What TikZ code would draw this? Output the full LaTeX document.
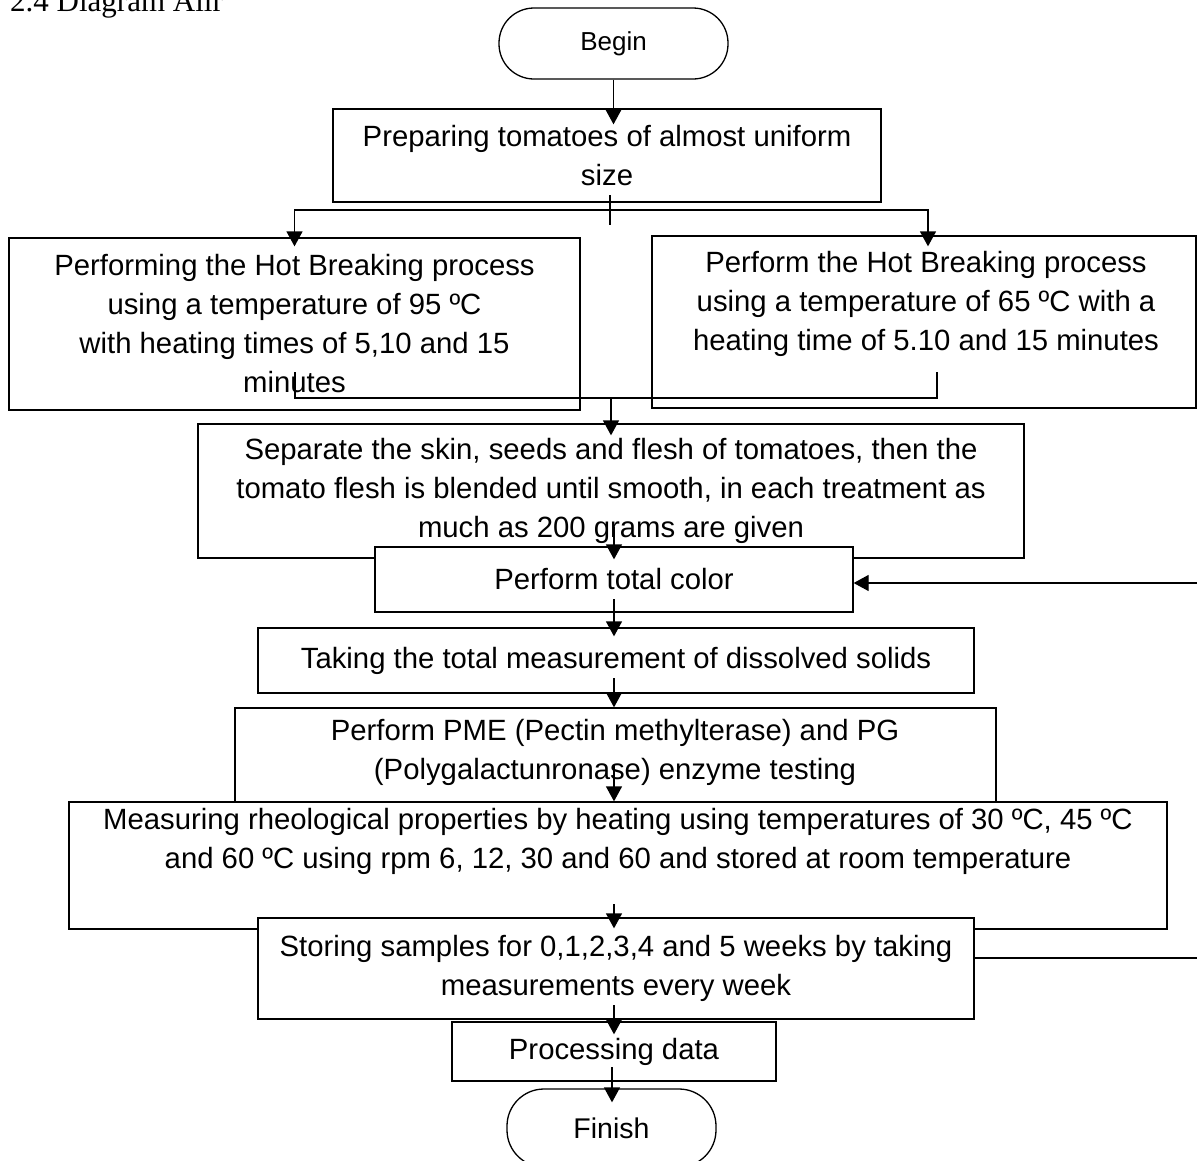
\documentclass[tikz,border=0pt]{standalone}
\usepackage{fontspec}
\setmainfont{Liberation Sans}
\newfontfamily\titlefont{Liberation Serif}
\usetikzlibrary{arrows.meta}
\begin{document}
\begin{tikzpicture}[x=1pt,y=-1pt,
  box/.style={draw, line width=1.3pt, fill=white, inner sep=0pt, align=center, font=\fontsize{29.3}{39}\selectfont},
  term/.style={box, rounded corners=35pt},
  txt/.style={inner sep=0pt, align=center, font=\fontsize{29.3}{39}\selectfont},
  conn/.style={line width=1.3pt},
  arr/.style={conn, -{Triangle[width=16pt,length=15pt]}}]
\fill[white] (0,0) rectangle (1197,1160);
\useasboundingbox (0,0) rectangle (1197,1160);

\node[anchor=base west, inner sep=0pt, font=\titlefont\fontsize{31}{37}\selectfont] (title) at (10,11) {2.4 Diagram Alir};

\node[term, minimum width=229, minimum height=71, font=\fontsize{26}{30}\selectfont] (begin) at (613.5,43.5) {Begin};
\node[box, minimum width=548, minimum height=93] (prep) at (607,155.5) {Preparing tomatoes of almost uniform\\size};
\node[box, minimum width=571, minimum height=172] (left) at (294.5,324) {Performing the Hot Breaking process\\using a temperature of 95 ºC\\with heating times of 5,10 and 15\\minutes};
\node[box, minimum width=544, minimum height=172] (right) at (924,322) {};
\node[txt] (rightT) at (926,304) {Perform the Hot Breaking process\\using a temperature of 65 ºC with a\\heating time of 5.10 and 15 minutes};
\node[box, minimum width=826, minimum height=134] (sep) at (611,491) {Separate the skin, seeds and flesh of tomatoes, then the\\tomato flesh is blended until smooth, in each treatment as\\much as 200 grams are given};
\node[box, minimum width=478, minimum height=65] (total) at (614,579.5) {Perform total color};
\node[box, minimum width=716, minimum height=65] (taking) at (616,660.5) {Taking the total measurement of dissolved solids};
\node[box, minimum width=761, minimum height=95] (pme) at (615.5,755.5) {};
\node[txt] (pmeT) at (615,752) {Perform PME (Pectin methylterase) and PG\\(Polygalactunronase) enzyme testing};
\node[box, minimum width=1098, minimum height=127] (meas) at (618,865.5) {};
\node[txt] (measT) at (618,841) {Measuring rheological properties by heating using temperatures of 30 ºC, 45 ºC\\and 60 ºC using rpm 6, 12, 30 and 60 and stored at room temperature};
\node[box, minimum width=716, minimum height=101] (store) at (616,968.5) {Storing samples for 0,1,2,3,4 and 5 weeks by taking\\measurements every week};
\node[box, minimum width=324, minimum height=59] (proc) at (614,1051.5) {Processing data};
\node[term, minimum width=209, minimum height=78, rounded corners=37pt, font=\fontsize{28.5}{32}\selectfont] (finish) at (611.5,1128) {Finish};

% connectors
\draw[arr] (begin.south) -- ([yshift=-16pt]begin.south |- prep.north);

\coordinate (tickT) at (610,195);
\coordinate (tickB) at (610,225);
\coordinate (split) at (610,210);
\draw[conn] (tickT) -- (tickB);
\draw[arr] (split) -| ([yshift=-9pt]left.north);
\draw[arr] (split) -| ([xshift=4pt,yshift=-11pt]right.north);

\coordinate (mL) at (295,372);
\coordinate (mR) at (937,372);
\coordinate (merge) at (611,398);
\draw[conn] (mL) |- (merge) -| (mR);
\draw[arr] (merge) -- ([yshift=-12pt]merge |- sep.north);

\coordinate (s4) at (614,527);
\draw[arr] (s4) -- ([yshift=-13pt]s4 |- total.north);
\coordinate (s5) at (614,599);
\draw[arr] (s5) -- ([yshift=-9pt]s5 |- taking.north);
\coordinate (s6) at (614,678);
\draw[arr] (s6) -- (s6 |- pme.north);
\coordinate (s7) at (614,765);
\draw[arr] (s7) -- (s7 |- meas.north);
\coordinate (s8) at (614,904);
\draw[arr] (s8) -- ([yshift=-11pt]s8 |- store.north);
\coordinate (s9) at (614,1005);
\draw[arr] (s9) -- ([yshift=-13pt]s9 |- proc.north);
\coordinate (s10) at (612,1067);
\draw[arr] (s10) -- ([yshift=-14pt]s10 |- finish.north);

\coordinate (fbA) at (1201,958);
\coordinate (fbB) at (1201,583);
\draw[arr] ([yshift=10.5pt]store.east) -- (fbA) -- (fbB) -- ([yshift=-3.5pt]total.east);
\end{tikzpicture}
\end{document}
